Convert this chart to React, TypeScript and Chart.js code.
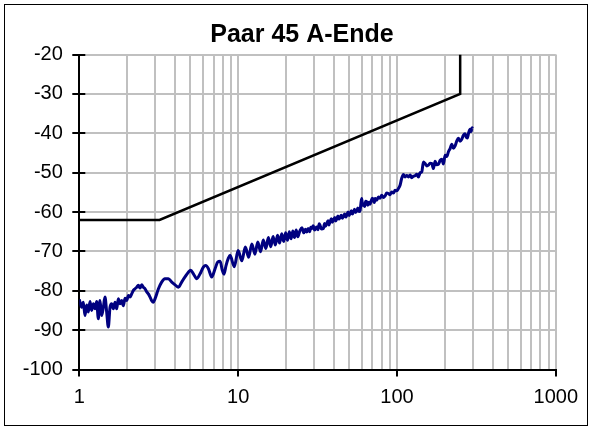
import React, { useEffect, useRef } from "react";
import { Chart, registerables } from "chart.js";

Chart.register(...registerables);

const chartTitle = "Paar 45 A-Ende";

// x gridline positions (log axis) and which of them carry a label
const xGridTicks = [1, 2, 3, 4, 5, 6, 7, 8, 9, 10, 20, 30, 40, 50, 60, 70, 80, 90, 100, 200, 300, 400, 500, 600, 700, 800, 900, 1000];
const xLabelTicks = [1, 10, 100, 1000];
const yMin = -100;
const yMax = -20;
const yStep = 10;

// limit line
const limitX = [1, 3.2, 250, 250];
const limitY = [-62, -62, -30, -20];

// measured curve
const measuredX = [
  1.0, 1.035, 1.06, 1.086, 1.113, 1.14, 1.168, 1.196, 1.226, 1.256, 1.286, 1.318, 1.35, 1.383, 1.417, 1.451, 1.487, 1.523, 1.561, 1.599,
  1.638, 1.678, 1.719, 1.761, 1.804, 1.849, 1.894, 1.941, 1.988, 2.037, 2.086, 2.137, 2.19, 2.243, 2.298, 2.354, 2.411, 2.471, 2.531, 2.593,
  2.657, 2.721, 2.788, 2.856, 2.926, 3.0, 3.15, 3.3, 3.46, 3.64, 3.82, 4.01, 4.21, 4.41, 4.63, 4.86, 5.03, 5.23, 5.49, 5.76,
  6.04, 6.25, 6.5, 6.82, 7.16, 7.44, 7.7, 7.95, 8.15, 8.39, 8.68, 8.9,
  9.45, 10.0, 10.55, 11.1, 11.65, 12.2, 12.75, 13.3, 13.85, 14.4, 14.95, 15.5, 16.05, 16.6, 17.15, 17.7, 18.25, 18.8, 19.35, 19.9,
  20.45, 21.0, 21.55, 22.1, 22.65, 23.2, 23.75,
  24.5, 25.2, 25.9, 26.5, 27.0, 27.6, 28.2, 28.7, 29.1, 29.7, 30.3, 31.2, 31.8, 32.4, 32.8, 33.5, 34.4, 35.0, 35.5, 36.1,
  36.8, 37.3, 37.9, 38.6, 39.2, 39.8, 40.6, 41.2, 41.8, 42.5, 43.1, 43.8, 44.6, 45.3, 46.0, 46.9, 47.6, 48.3, 49.2, 49.9,
  50.7, 51.6, 52.4, 53.2, 54.0, 54.9, 55.8, 56.7, 57.6, 58.6, 59.3, 60.0, 60.7, 61.5, 62.5, 63.5, 64.5, 65.5, 66.6, 67.7,
  68.8, 69.9, 71.1, 72.0,
  72.8, 74.6, 76.4, 78.3, 80.2, 82.2, 84.2, 86.2, 88.3, 90.5, 92.7, 95.0, 97.3, 99.7, 102.1, 104.6, 107.0, 109.8, 112.5, 115.2,
  118.1, 121.0, 123.9, 127.0, 130.1, 133.3, 136.5, 140.0, 143.3, 146.8, 150.4, 154.0, 157.8, 161.6, 165.6, 169.7, 173.8, 178.0, 182.4, 187.0,
  191.5, 196.2, 200.9, 205.8, 210.9, 216.1, 221.4, 226.8, 232.3, 237.8, 243.6, 249.6, 255.9, 262.0, 268.5, 272.8, 277.5, 283.0, 288.6, 293.0,
  297.0, 300.0,
];
const measuredY = [
  -82.2, -84.2, -82.9, -86.3, -83.6, -85.4, -82.7, -85.0, -83.3, -84.6, -82.7, -87.1, -82.5, -86.3, -84.2, -81.6, -85.4, -89.2, -84.2, -83.3,
  -84.6, -82.9, -84.6, -82.0, -83.3, -82.5, -83.8, -81.9, -82.5, -81.2, -81.6, -80.8, -79.9, -79.5, -79.1, -78.6, -79.3, -78.5, -79.1, -79.5,
  -80.3, -80.8, -81.6, -82.5, -82.9, -82.0, -79.5, -77.8, -76.95, -76.95, -77.8, -78.5, -79.1, -77.8, -76.5, -75.3, -74.8, -75.7, -76.95, -75.7,
  -74.0, -73.6, -74.4, -76.5, -74.4, -72.7, -72.5, -74.8, -75.8, -73.6, -71.7, -71.0,
  -73.9, -69.8, -72.4, -68.9, -71.5, -68.1, -70.7, -67.6, -70.1, -67.1, -69.3, -66.5, -68.8, -66.2, -68.4, -65.9, -67.9, -65.5, -67.5, -65.3,
  -67.2, -65.0, -66.8, -64.8, -66.5, -64.6, -66.3,
  -64.7, -64.0, -65.3, -64.4, -65.1, -64.2, -65.0, -63.9, -64.2, -63.5, -64.6, -63.8, -64.5, -63.0, -63.4, -64.3, -64.2, -62.9, -63.6, -63.0,
  -62.2, -63.3, -62.5, -61.7, -62.6, -62.1, -61.4, -62.3, -61.7, -61.0, -61.8, -61.4, -60.8, -61.6, -61.1, -60.5, -61.3, -60.8, -60.0, -60.9,
  -60.4, -59.7, -60.5, -60.0, -59.3, -60.1, -59.7, -59.0, -59.9, -59.6, -57.8, -56.6, -58.3, -57.9, -58.6, -57.3, -57.4, -58.3, -57.5, -58.0,
  -57.2, -56.5, -57.0, -57.6,
  -56.6, -57.0, -56.2, -56.5, -55.75, -56.3, -55.9, -55.2, -55.3, -55.6, -54.9, -55.2, -54.5, -54.6, -54.05, -53.2, -51.5, -50.5, -51.1, -50.7,
  -51.1, -50.6, -51.3, -50.9, -50.8, -50.4, -51.1, -50.0, -49.8, -47.3, -47.7, -48.3, -48.1, -47.6, -47.7, -48.96, -47.1, -48.0, -47.9, -46.9,
  -46.6, -47.8, -45.6, -45.9, -44.7, -43.9, -42.8, -43.8, -43.2, -42.0, -41.3, -42.0, -41.5, -40.5, -40.1, -41.0, -41.2, -39.8, -39.0, -39.6,
  -38.6, -38.8,
];

const FONT = "'Liberation Sans', Arial, Helvetica, sans-serif";

const innerTicksPlugin = {
  id: "innerTicks",
  beforeDatasetsDraw(chart: any) {
    const { ctx, chartArea, scales } = chart;
    const y = scales.y;
    ctx.save();
    ctx.strokeStyle = "#000";
    ctx.lineWidth = 2;
    y.ticks.forEach((t: any) => {
      const py = Math.round(y.getPixelForValue(t.value));
      ctx.beginPath();
      ctx.moveTo(chartArea.left, py);
      ctx.lineTo(chartArea.left + 6, py);
      ctx.stroke();
    });
    ctx.restore();
  },
};

export default function App() {
  const canvasRef = useRef<HTMLCanvasElement | null>(null);

  useEffect(() => {
    if (!canvasRef.current) return;
    const chart = new Chart(canvasRef.current, {
      type: "line",
      data: {
        datasets: [
          {
            label: "Grenzwert",
            data: limitX.map((x, i) => ({ x, y: limitY[i] })),
            borderColor: "#000000",
            borderWidth: 2.5,
            pointRadius: 0,
            fill: false,
            tension: 0,
          },
          {
            label: "Paar 45",
            data: measuredX.map((x, i) => ({ x, y: measuredY[i] })),
            borderColor: "#000080",
            borderWidth: 3,
            pointRadius: 0,
            fill: false,
            cubicInterpolationMode: "monotone",
          },
        ],
      },
      options: {
        responsive: false,
        animation: false,
        devicePixelRatio: 1,
        layout: { padding: { left: 13, right: 0, top: 0, bottom: 0 } },
        plugins: {
          legend: { display: false },
          tooltip: { enabled: false },
          title: {
            display: true,
            text: chartTitle,
            color: "#000",
            font: { family: FONT, size: 25, weight: "bold" },
            padding: { top: 20, bottom: 4.5 },
          },
        },
        scales: {
          x: {
            type: "logarithmic",
            min: 1,
            max: 1000,
            afterBuildTicks: (scale: any) => {
              scale.ticks = xGridTicks.map((v) => ({ value: v, major: xLabelTicks.includes(v) }));
            },
            afterFit: (scale: any) => {
              scale.height = 60.5;
            },
            ticks: {
              autoSkip: false,
              maxRotation: 0,
              minRotation: 0,
              padding: 9,
              color: "#000",
              font: { family: FONT, size: 20 },
              callback: (value: any) => (xLabelTicks.includes(Number(value)) ? String(value) : ""),
            },
            grid: {
              color: "#c0c0c0",
              lineWidth: 2,
              drawTicks: true,
              tickLength: 7,
              tickWidth: 2,
              tickColor: (ctx: any) =>
                ctx.tick && xLabelTicks.includes(ctx.tick.value) ? "#000" : "rgba(0,0,0,0)",
            },
            border: { display: true, color: "#000", width: 2 },
          },
          y: {
            type: "linear",
            position: "left",
            min: yMin,
            max: yMax,
            afterFit: (scale: any) => {
              scale.width = 66.3;
            },
            ticks: {
              stepSize: yStep,
              padding: 9.5,
              color: "#000",
              font: { family: FONT, size: 20 },
            },
            grid: {
              color: "#c0c0c0",
              lineWidth: 2,
              drawTicks: true,
              tickLength: 7,
              tickWidth: 2,
              tickColor: "#000",
            },
            border: { display: true, color: "#000", width: 2 },
          },
          // empty right-hand spacer so the plot area ends where the reference's does
          ySpacer: {
            type: "linear",
            position: "right",
            display: true,
            afterFit: (scale: any) => {
              scale.width = 35.2;
            },
            ticks: { display: false },
            grid: { display: false, drawTicks: false },
            border: { display: false },
          },
        },
      } as any,
      plugins: [innerTicksPlugin],
    });
    return () => chart.destroy();
  }, []);

  return (
    <div style={{ position: "absolute", left: 0, top: 0, width: 591, height: 430, background: "#fff" }}>
      <div
        style={{
          position: "absolute",
          left: 4,
          top: 4,
          width: 584,
          height: 422,
          boxSizing: "border-box",
          border: "1px solid #000",
        }}
      />
      <canvas
        ref={canvasRef}
        width={591}
        height={430}
        style={{ position: "absolute", left: 0, top: 0, width: 591, height: 430 }}
      />
    </div>
  );
}
